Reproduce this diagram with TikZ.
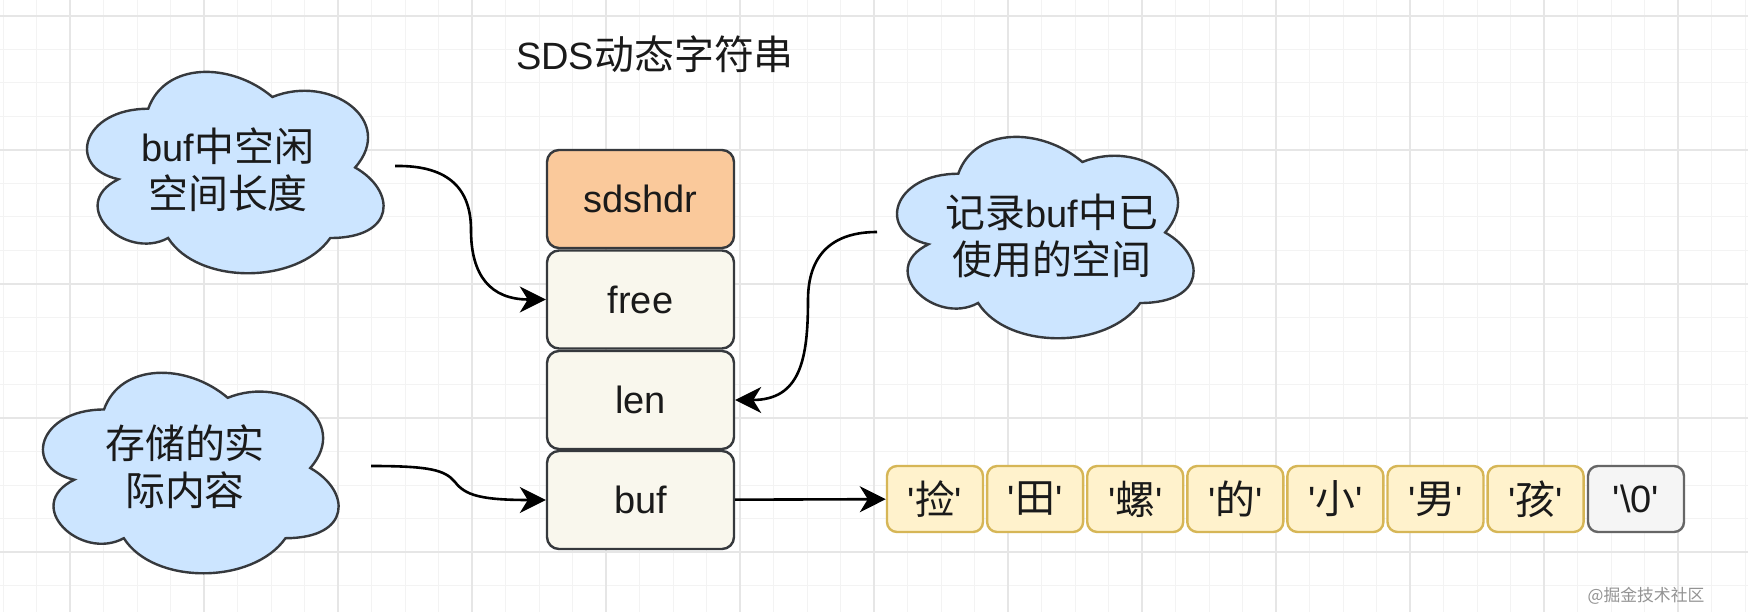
\documentclass[tikz,border=0pt]{standalone}
\usepackage{fontspec}
\newfontfamily\plainfont{Liberation Sans}
\newfontfamily\cjkfont{Noto Sans CJK SC}[Scale=1.05]
\usetikzlibrary{arrows.meta}
\definecolor{gridmaj}{HTML}{E6E6E6}
\definecolor{gridmin}{HTML}{F3F3F3}
\definecolor{strokeD}{HTML}{36393D}
\definecolor{hdrfill}{HTML}{FAC99B}
\definecolor{fldfill}{HTML}{F9F7ED}
\definecolor{cloudfill}{HTML}{CCE5FF}
\definecolor{cellfill}{HTML}{FFF2CC}
\definecolor{cellstroke}{HTML}{D6B656}
\definecolor{endfill}{HTML}{F5F5F5}
\definecolor{endstroke}{HTML}{666666}
\definecolor{ink}{HTML}{1A1A1A}
\newcommand\zh[1]{{\cjkfont #1}}
\newcommand\fs{\plainfont\fontsize{38}{47}\selectfont}
\newcommand\drawcloud[4]{%
  \draw[cloudsty] ({#1+0.25*#3},{#2+0.25*#4})
   .. controls ({#1+0.05*#3},{#2+0.25*#4}) and ({#1},{#2+0.5*#4}) .. ({#1+0.16*#3},{#2+0.55*#4})
   .. controls ({#1},{#2+0.66*#4}) and ({#1+0.18*#3},{#2+0.9*#4}) .. ({#1+0.31*#3},{#2+0.8*#4})
   .. controls ({#1+0.4*#3},{#2+#4}) and ({#1+0.7*#3},{#2+#4}) .. ({#1+0.8*#3},{#2+0.8*#4})
   .. controls ({#1+#3},{#2+0.8*#4}) and ({#1+#3},{#2+0.6*#4}) .. ({#1+0.875*#3},{#2+0.5*#4})
   .. controls ({#1+#3},{#2+0.3*#4}) and ({#1+0.8*#3},{#2+0.1*#4}) .. ({#1+0.625*#3},{#2+0.2*#4})
   .. controls ({#1+0.5*#3},{#2+0.05*#4}) and ({#1+0.3*#3},{#2+0.05*#4}) .. ({#1+0.25*#3},{#2+0.25*#4}) -- cycle;}
\tikzset{
  fld/.style={draw=strokeD, line width=2.4pt, rounded corners=12pt, fill=fldfill,
    minimum width=187, minimum height=98, inner sep=0pt, font=\fs, text=ink},
  hdr/.style={fld, fill=hdrfill},
  cell/.style={draw=cellstroke, line width=2.4pt, rounded corners=10pt, fill=cellfill,
    minimum width=96, minimum height=66, inner sep=0pt, font=\fs, text=ink},
  endcell/.style={cell, draw=endstroke, fill=endfill},
  cloudsty/.style={draw=strokeD, line width=2.4pt, fill=cloudfill},
  txt/.style={align=center, inner sep=0pt, font=\fs, text=ink},
  conn/.style={line width=2.6pt, draw=black, -{Stealth[length=26pt,width=26pt,inset=8pt]}},
}
\begin{document}
\begin{tikzpicture}[x=1pt,y=-1pt]
\useasboundingbox (0,0) rectangle (1748,612);
\fill[white] (0,0) rectangle (1748,612);
% grid
\foreach \i in {0,...,52} \draw[gridmin, line width=1pt] ({3+33.5*\i},0) -- ({3+33.5*\i},612);
\foreach \j in {0,...,17} \draw[gridmin, line width=1pt] (0,{16+33.5*\j}) -- (1748,{16+33.5*\j});
\foreach \i in {0,...,12} \draw[gridmaj, line width=1.2pt] ({70+134*\i},0) -- ({70+134*\i},612);
\foreach \j in {0,...,4} \draw[gridmaj, line width=1.2pt] (0,{16+134*\j}) -- (1748,{16+134*\j});

% title
\node[txt] (title) at (655,54) {SDS\zh{动态字符串}};

% clouds
\drawcloud{65.5}{50}{331}{235}
\drawcloud{875.5}{115}{331}{235}
\drawcloud{21.5}{351}{330}{234}
\node[txt] (t1) at (228,170) {buf\zh{中空闲}\\\zh{空间长度}};
\node[txt] (t2) at (1052,236) {\zh{记录}buf\zh{中已}\\\zh{使用的空间}};
\node[txt] (t3) at (185,467) {\zh{存储的实}\\\zh{际内容}};
\coordinate (c1e) at (395,166);
\coordinate (c2w) at (877,232);
\coordinate (c3e) at (371,466);

% struct
\node[hdr] (sdshdr) at (640.5,199) {sdshdr};
\node[fld] (free) at (640.5,299.5) {free};
\node[fld] (len) at (640.5,400) {len};
\node[fld] (buf) at (640.5,500) {buf};

% cells
\foreach \ch [count=\i from 0] in {捡,田,螺,的,小,男,孩}
  \node[cell] (s\i) at ({935+100.1*\i},499) {'\zh{\ch}'};
\node[endcell] (s7) at (1636,499) {'\textbackslash 0'};

% connectors
\draw[conn] (c1e) .. controls (450,165) and (471,190) .. (471,230)
   .. controls (471,275) and (490,299.5) .. (free.west);
\draw[conn] (c2w) .. controls (832,232) and (808,255) .. (808,300)
   .. controls (808,360) and (800,400) .. (len.east);
\draw[conn] (c3e) .. controls (430,466) and (445,470) .. (455,482)
   .. controls (465,495) and (480,500) .. (buf.west);
\draw[conn] (buf) -- (s0);

% watermark
\node[inner sep=0pt, text=gray!85, font={\cjkfont\fontsize{16}{16}\selectfont}] (wm) at (1646,596) {@掘金技术社区};
\end{tikzpicture}
\end{document}
